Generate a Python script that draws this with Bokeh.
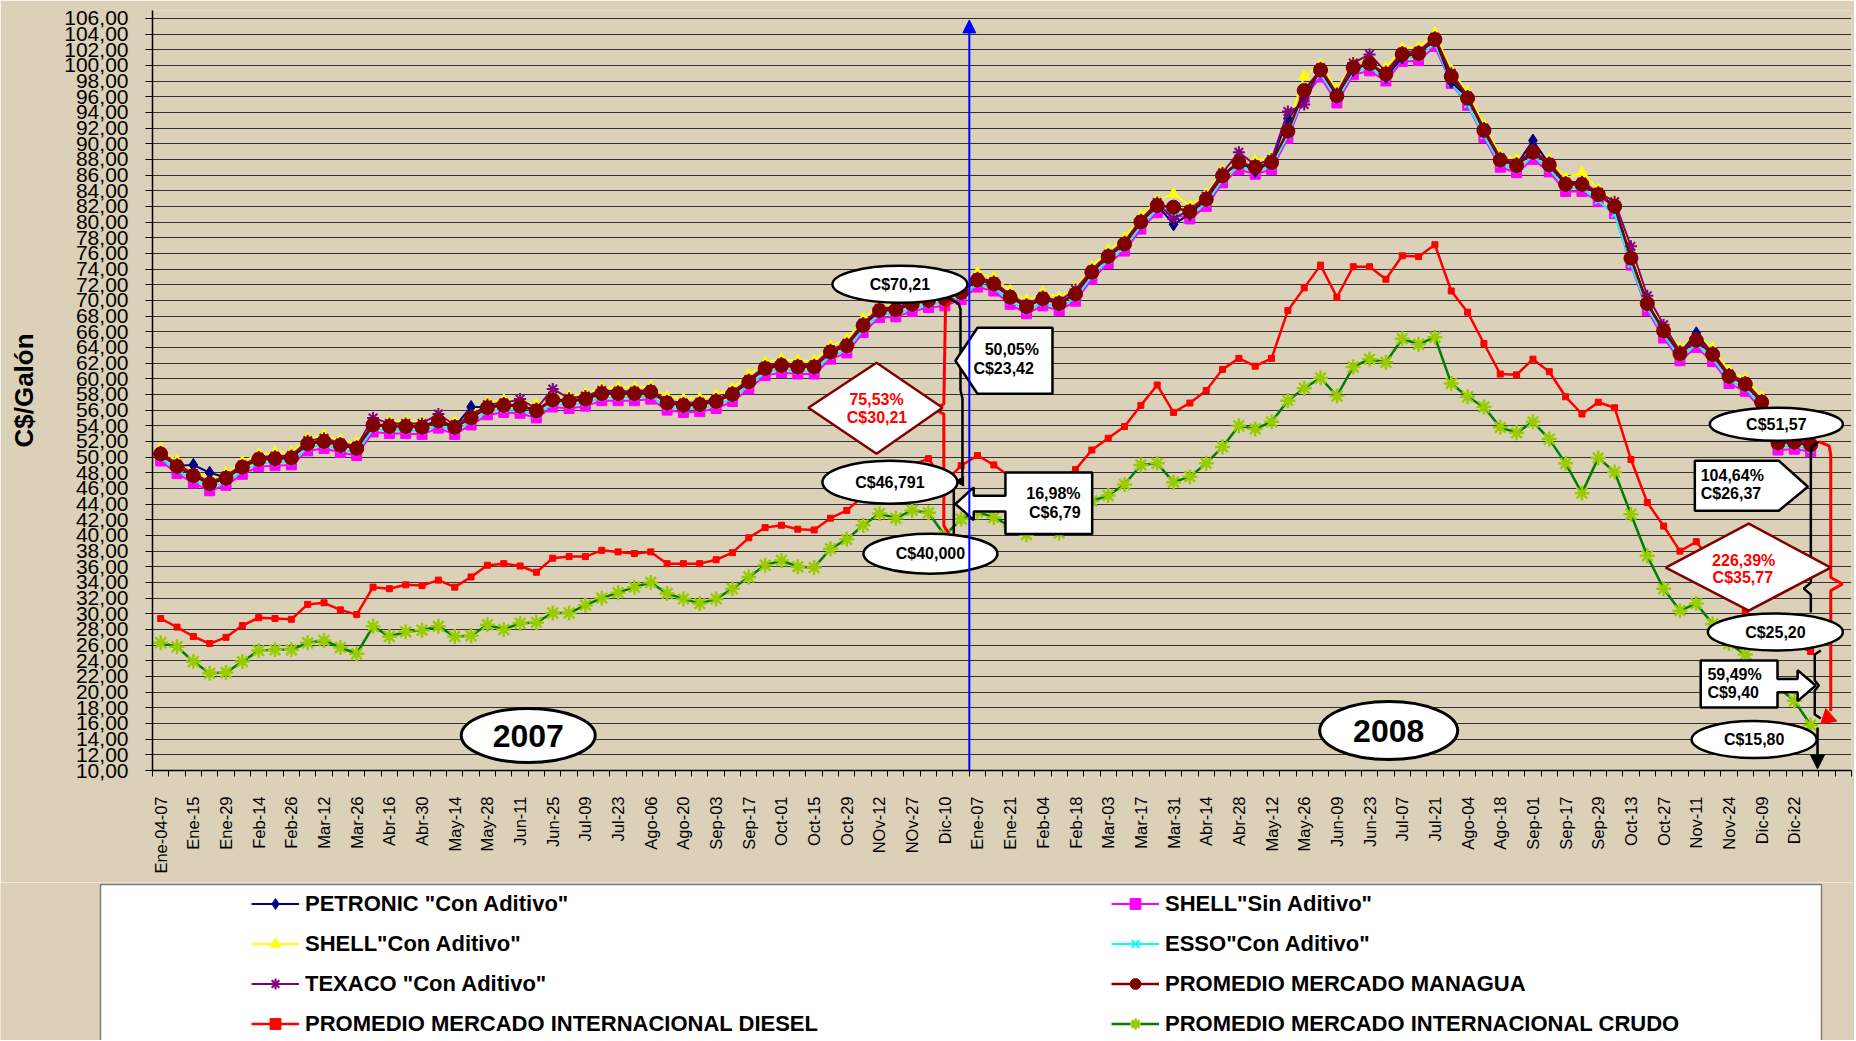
from math import pi
from bokeh.plotting import figure
from bokeh.layouts import column
from bokeh.models import (Range1d, FixedTicker, Legend, LegendItem, Arrow, NormalHead)
from bokeh.core.properties import value
from bokeh.embed import file_html
from bokeh.resources import INLINE

# ---------------- data ----------------
labels_2007 = ["Ene-04-07", "Ene-15", "Ene-29", "Feb-14", "Feb-26", "Mar-12", "Mar-26",
               "Abr-16", "Abr-30", "May-14", "May-28", "Jun-11", "Jun-25", "Jul-09",
               "Jul-23", "Ago-06", "Ago-20", "Sep-03", "Sep-17", "Oct-01", "Oct-15",
               "Oct-29", "NOv-12", "NOv-27", "Dic-10"]
labels_2008 = ["Ene-07", "Ene-21", "Feb-04", "Feb-18", "Mar-03", "Mar-17", "Mar-31",
               "Abr-14", "Abr-28", "May-12", "May-26", "Jun-09", "Jun-23", "Jul-07",
               "Jul-21", "Ago-04", "Ago-18", "Sep-01", "Sep-17", "Sep-29", "Oct-13",
               "Oct-27", "Nov-11", "Nov-24", "Dic-09", "Dic-22"]
week_labels = labels_2007 + labels_2008

petronic = [50.6, 48.9, 49.0, 48.0, 47.4, 48.8, 49.8, 49.9, 50.0, 51.8,
            52.1, 51.6, 51.2, 54.2, 54.0, 54.0, 53.9, 54.7, 53.9, 56.4,
            56.4, 56.7, 56.6, 56.0, 57.4, 57.2, 57.5, 58.2, 58.2, 58.2,
            58.4, 57.0, 56.7, 56.8, 57.2, 58.1, 59.7, 61.4, 61.8, 61.6,
            61.6, 63.5, 64.3, 66.9, 68.8, 68.9, 69.6, 70.1, 70.3, 71.1,
            72.7, 72.2, 70.5, 69.3, 70.3, 69.7, 70.9, 73.7, 75.7, 77.3,
            80.1, 82.2, 79.7, 81.0, 83.0, 86.0, 87.7, 86.5, 87.7, 93.2,
            95.8, 99.5, 96.2, 99.4, 100.3, 98.5, 101.0, 101.6, 103.4, 97.9,
            95.9, 91.8, 88.0, 87.3, 90.4, 87.4, 84.9, 84.9, 83.6, 82.1,
            75.5, 69.7, 66.2, 63.3, 65.8, 63.2, 60.4, 59.4, 57.1, 51.9,
            52.0, 51.3]
shell_sin = [49.5, 47.9, 46.7, 45.7, 46.4, 47.8, 48.8, 48.9, 49.0, 50.8,
             51.1, 50.6, 50.2, 53.2, 53.0, 53.0, 52.9, 53.7, 52.9, 54.1,
             55.4, 55.7, 55.6, 55.0, 56.4, 56.2, 56.5, 57.2, 57.2, 57.2,
             57.4, 56.0, 55.7, 55.8, 56.2, 57.1, 58.7, 60.4, 60.8, 60.6,
             60.6, 62.5, 63.3, 65.9, 67.8, 67.9, 68.6, 69.1, 69.3, 70.1,
             71.7, 71.2, 69.5, 68.3, 69.3, 68.7, 69.9, 72.7, 74.7, 76.3,
             79.1, 81.2, 81.0, 80.4, 82.0, 85.0, 86.7, 86.1, 86.7, 90.7,
             95.9, 98.5, 95.2, 98.8, 99.3, 98.0, 100.5, 100.6, 102.4, 97.7,
             94.9, 90.8, 87.0, 86.3, 88.0, 86.4, 83.9, 83.9, 82.6, 81.1,
             74.5, 68.7, 65.2, 62.3, 64.0, 62.2, 59.4, 58.4, 56.1, 50.9,
             51.0, 50.7]
shell_con = [51.1, 49.5, 48.3, 47.3, 48.0, 49.4, 50.4, 50.6, 50.6, 52.4,
             52.8, 52.2, 51.8, 54.8, 54.6, 54.6, 54.5, 55.3, 54.5, 55.7,
             57.0, 57.3, 57.2, 56.7, 58.0, 57.8, 58.1, 58.8, 58.9, 58.9,
             59.0, 57.7, 57.4, 57.5, 57.9, 58.8, 60.5, 62.1, 62.5, 62.3,
             62.3, 64.2, 65.0, 67.6, 69.5, 69.6, 70.3, 70.7, 71.0, 71.8,
             73.5, 72.9, 71.2, 70.0, 71.0, 70.4, 71.6, 74.3, 76.4, 78.0,
             80.8, 82.8, 83.6, 82.1, 83.6, 86.6, 88.3, 87.8, 88.3, 92.3,
             98.6, 100.1, 96.9, 100.4, 100.9, 99.7, 102.2, 102.3, 104.1, 99.4,
             96.6, 92.4, 88.6, 88.0, 89.6, 88.0, 85.6, 86.3, 84.2, 82.7,
             76.1, 70.3, 66.8, 63.9, 65.7, 63.9, 61.0, 60.0, 57.7, 52.6,
             52.7, 52.3]
esso = [49.9, 48.3, 47.1, 46.1, 46.8, 48.2, 49.2, 49.3, 49.4, 51.2,
        51.5, 51.0, 50.6, 53.6, 53.4, 53.4, 53.3, 54.1, 53.3, 54.5,
        55.8, 56.1, 56.0, 55.4, 56.8, 56.6, 56.9, 57.6, 57.6, 57.6,
        57.8, 56.4, 56.1, 56.2, 56.6, 57.5, 59.1, 60.8, 61.2, 61.0,
        61.0, 62.9, 63.7, 66.3, 68.2, 68.3, 69.0, 69.5, 69.7, 70.5,
        72.1, 71.6, 69.9, 68.7, 69.7, 69.1, 70.3, 73.1, 75.1, 76.7,
        79.5, 81.6, 81.1, 80.8, 82.4, 85.4, 87.1, 86.5, 87.1, 91.1,
        96.3, 98.9, 95.6, 99.2, 99.7, 98.4, 100.9, 101.0, 102.8, 97.8,
        95.0, 91.0, 87.4, 86.7, 88.4, 86.8, 84.3, 84.3, 82.7, 81.0,
        74.6, 69.0, 65.6, 62.7, 64.4, 62.6, 59.8, 58.8, 56.5, 51.3,
        51.4, 51.0]
texaco = [50.6, 49.1, 47.9, 46.8, 47.6, 49.0, 50.0, 50.1, 50.2, 52.1,
          52.4, 51.8, 51.4, 55.0, 54.3, 54.3, 54.3, 55.5, 54.1, 55.3,
          56.7, 56.9, 57.4, 56.2, 58.7, 57.5, 57.8, 58.5, 58.4, 58.4,
          58.6, 57.2, 56.9, 57.0, 57.4, 58.3, 59.9, 61.6, 62.0, 61.8,
          61.8, 63.7, 64.5, 67.1, 69.0, 69.1, 69.8, 70.3, 70.5, 71.3,
          72.9, 72.4, 70.7, 69.5, 70.5, 69.9, 71.4, 73.9, 75.9, 77.5,
          80.3, 82.5, 80.4, 81.6, 83.3, 86.3, 88.9, 87.3, 88.0, 94.1,
          95.0, 99.7, 96.4, 100.3, 101.4, 99.2, 101.7, 101.8, 103.6, 99.0,
          96.1, 92.0, 88.2, 87.5, 89.2, 87.6, 85.1, 85.1, 83.8, 82.6,
          76.9, 70.6, 66.9, 63.5, 65.2, 63.4, 60.6, 59.6, 57.3, 52.1,
          52.2, 51.9]
managua = [50.4, 48.8, 47.6, 46.6, 47.3, 48.7, 49.7, 49.8, 49.9, 51.7,
           52.0, 51.5, 51.1, 54.1, 53.9, 53.9, 53.8, 54.6, 53.8, 55.0,
           56.3, 56.6, 56.5, 55.9, 57.3, 57.1, 57.4, 58.1, 58.1, 58.1,
           58.3, 56.9, 56.6, 56.7, 57.1, 58.0, 59.6, 61.3, 61.7, 61.5,
           61.5, 63.4, 64.2, 66.8, 68.7, 68.8, 69.5, 70.0, 70.21, 71.0,
           72.6, 72.1, 70.4, 69.2, 70.2, 69.6, 70.8, 73.6, 75.6, 77.2,
           80.0, 82.1, 81.9, 81.3, 82.9, 85.9, 87.6, 87.0, 87.6, 91.6,
           96.8, 99.4, 96.1, 99.7, 100.2, 98.9, 101.4, 101.5, 103.3, 98.6,
           95.8, 91.7, 87.9, 87.2, 88.9, 87.3, 84.8, 84.8, 83.5, 82.0,
           75.4, 69.6, 66.1, 63.2, 64.9, 63.1, 60.3, 59.3, 57.0, 51.8,
           51.9, 51.57]
diesel = [29.4, 28.3, 27.1, 26.2, 27.0, 28.5, 29.5, 29.4, 29.3, 31.2,
          31.4, 30.5, 29.9, 33.4, 33.2, 33.7, 33.6, 34.3, 33.4, 34.7,
          36.2, 36.4, 36.1, 35.3, 37.1, 37.3, 37.3, 38.1, 37.9, 37.7,
          37.9, 36.4, 36.4, 36.4, 36.9, 37.8, 39.7, 41.0, 41.3, 40.8,
          40.7, 42.2, 43.2, 45.0, 46.5, 47.8, 49.0, 49.8, 46.79, 48.9,
          50.2, 49.0, 47.5, 46.5, 46.0, 46.8, 48.4, 50.9, 52.4, 53.9,
          56.6, 59.2, 55.7, 56.9, 58.5, 61.2, 62.6, 61.6, 62.6, 68.7,
          71.6, 74.5, 70.4, 74.3, 74.3, 72.7, 75.7, 75.6, 77.1, 71.2,
          68.5, 64.5, 60.6, 60.5, 62.5, 60.9, 57.7, 55.5, 57.0, 56.3,
          49.7, 44.2, 41.2, 38.0, 39.2, 36.5, 33.5, 30.3, 28.5, 27.0,
          26.0, 25.2]
crudo = [26.3, 25.8, 23.9, 22.4, 22.5, 23.9, 25.3, 25.4, 25.4, 26.3,
         26.6, 25.7, 24.9, 28.4, 27.1, 27.7, 27.9, 28.4, 27.1, 27.2,
         28.6, 28.0, 28.8, 28.9, 30.1, 30.1, 31.1, 32.0, 32.7, 33.4,
         34.0, 32.6, 31.9, 31.3, 31.9, 33.2, 34.7, 36.2, 36.8, 36.0,
         35.9, 38.3, 39.5, 41.3, 42.8, 42.2, 43.2, 42.9, 40.0, 42.1,
         43.0, 42.3, 41.2, 40.1, 41.0, 40.3, 42.4, 44.4, 45.1, 46.5,
         49.0, 49.2, 46.8, 47.5, 49.2, 51.3, 54.0, 53.6, 54.5, 57.2,
         58.8, 60.1, 57.8, 61.5, 62.5, 62.1, 65.1, 64.4, 65.3, 59.4,
         57.7, 56.4, 53.8, 53.1, 54.5, 52.3, 49.2, 45.4, 49.9, 48.1,
         42.7, 37.4, 33.2, 30.4, 31.3, 28.7, 26.2, 24.8, 22.8, 20.6,
         18.9, 15.8]

y_ticks = list(range(10, 107, 2))
weeks = list(range(len(managua)))

# ---------------- styles ----------------
FONT = "Liberation Sans"
BG = "#DBD0B8"
STYLES = {
    "sin": dict(color="#FF00FF", marker="square", size=10, fill="#FF00FF", mline="#FF00FF", lw=2.0, mlw=1.0),
    "esso": dict(color="#00FFFF", marker="x", size=9, fill=None, mline="#00FFFF", lw=2.0, mlw=2.0),
    "con": dict(color="#FFFF00", marker="triangle", size=11, fill="#FFFF00", mline="#FFFF00", lw=2.0, mlw=1.0),
    "pet": dict(color="#000080", marker="diamond", size=13, fill="#000080", mline="#000080", lw=2.0, mlw=1.0),
    "tex": dict(color="#800080", marker="asterisk", size=12, fill=None, mline="#800080", lw=2.0, mlw=2.0),
    "man": dict(color="#800000", marker="circle", size=14, fill="#800000", mline="#800000", lw=2.5, mlw=1.0),
    "die": dict(color="#FF0000", marker="square", size=6, fill="#FF0000", mline="#FF0000", lw=2.5, mlw=1.0),
    "cru": dict(color="#008000", marker="asterisk", size=15, fill=None, mline="#99CC00", lw=2.5, mlw=2.5),
}

W = 1854

# ---------------- main figure ----------------
p = figure(width=W, height=882, x_range=Range1d(-0.5, 103.5), y_range=Range1d(10, 107),
           output_backend="svg", toolbar_location=None,
           min_border_left=152, min_border_right=3, min_border_top=10, min_border_bottom=112,
           background_fill_color=BG, border_fill_color=BG, outline_line_color=None)
p.frame_align = False

p.xaxis.ticker = FixedTicker(ticks=[2 * k for k in range(len(week_labels))],
                             minor_ticks=[i - 0.5 for i in range(105)])
p.xaxis.major_label_overrides = {2 * k: lab for k, lab in enumerate(week_labels)}
p.xaxis.major_label_orientation = pi / 2
p.xaxis.major_tick_line_color = None
p.xaxis.major_tick_out = 0
p.xaxis.major_tick_in = 0
p.xaxis.minor_tick_line_color = "black"
p.xaxis.minor_tick_out = 6
p.xaxis.minor_tick_in = 0
p.xaxis.major_label_standoff = 20
p.xaxis.axis_line_color = "black"
p.xaxis.axis_line_width = 1.5
p.xaxis.major_label_text_font = FONT
p.xaxis.major_label_text_font_size = "16.5px"
p.xaxis.major_label_text_color = "black"

p.yaxis.ticker = FixedTicker(ticks=y_ticks)
p.yaxis.major_label_overrides = {v: f"{v},00" for v in y_ticks}
p.yaxis.major_tick_out = 7
p.yaxis.major_tick_in = 0
p.yaxis.minor_tick_line_color = None
p.yaxis.major_label_standoff = 17
p.yaxis.axis_line_color = "black"
p.yaxis.axis_line_width = 1.5
p.yaxis.major_label_text_font = FONT
p.yaxis.major_label_text_font_size = "21px"
p.yaxis.major_label_text_color = "black"
p.yaxis.axis_label = "C$/Galón"
p.yaxis.axis_label_text_font = FONT
p.yaxis.axis_label_text_font_size = "26px"
p.yaxis.axis_label_text_font_style = "bold"
p.yaxis.axis_label_text_color = "black"
p.yaxis.axis_label_standoff = 22

p.xgrid.grid_line_color = None
p.ygrid.grid_line_color = "#333333"
p.ygrid.grid_line_width = 1


def series(fig, xv, yv, st):
    rl = fig.line(xv, yv, line_color=st["color"], line_width=st["lw"])
    rs = fig.scatter(xv, yv, marker=st["marker"], size=st["size"], fill_color=st["fill"],
                     line_color=st["mline"], line_width=st["mlw"])
    return [rl, rs]


for key, yv in [("sin", shell_sin), ("esso", esso), ("con", shell_con), ("pet", petronic),
                ("tex", texaco), ("man", managua), ("die", diesel), ("cru", crudo)]:
    series(p, weeks, yv, STYLES[key])

# ---------------- annotations ----------------
p.add_layout(Arrow(end=NormalHead(size=13, fill_color="#0000FF", line_color="#0000FF"),
                   x_start=49.5, y_start=10, x_end=49.5, y_end=105.8,
                   line_color="#0000FF", line_width=2))

br_red = dict(line_color="#FF0000", line_width=3)
br_blk = dict(line_color="black", line_width=2.5)
p.line([48.55, 48.04, 47.94, 47.32, 47.94, 47.94, 48.24],
       [70.29, 69.1, 56.77, 56.13, 55.5, 41.25, 40.27], **br_red)
p.line([48.24, 48.84, 48.96, 48.96, 49.08, 49.08],
       [70.29, 69.6, 68.9, 58.5, 57.5, 47.3], **br_blk)
p.patch([48.65, 49.15, 49.15], [46.9, 47.5, 46.3], fill_color="black", line_color="black")
p.line([48.55, 48.55], [46.99, 40.19], **br_blk)
p.line([101.5, 101.07, 101.01, 101.01, 100.58, 101.01, 101.01],
       [51.96, 51.33, 50.18, 33.98, 33.21, 32.45, 30.15], **br_blk)
p.line([101.62, 101.25, 101.25, 101.5, 101.25, 101.25, 101.62],
       [25.31, 24.8, 21.48, 20.84, 20.2, 17.14, 16.63], **br_blk)
p.line([101.52, 102.13, 102.23, 102.23, 102.95, 102.23, 102.23],
       [51.96, 51.43, 50.31, 34.64, 33.8, 32.96, 17.6], **br_red)
p.patch([101.93, 102.6, 101.62], [17.9, 16.3, 15.96], fill_color="#FF0000", line_color="#FF0000")
p.add_layout(Arrow(end=NormalHead(size=14, fill_color="black", line_color="black"),
                   x_start=101.42, y_start=15.5, x_end=101.42, y_end=10.2,
                   line_color="black", line_width=2.5))

p.patches([[39.65, 43.82, 47.86, 43.82], [92.13, 97.21, 102.23, 97.21]],
          [[56.3, 62.04, 56.3, 50.43], [35.89, 41.5, 35.89, 30.41]],
          fill_color="white", line_color="#800000", line_width=2.5)

p.patches([[48.65, 50.0, 54.59, 54.59, 50.0],
           [51.71, 57.02, 57.02, 51.71, 51.71, 49.77, 49.77, 48.65, 49.77, 49.77, 51.71],
           [93.91, 99.05, 100.83, 99.05, 93.91],
           [94.27, 98.97, 98.97, 100.2, 100.2, 101.31, 100.2, 100.2, 98.97, 98.97, 94.27]],
          [[62.3, 66.5, 66.5, 58.09, 58.09],
           [48.05, 48.05, 40.19, 40.19, 43.07, 43.07, 41.98, 44.02, 46.14, 45.08, 45.08],
           [49.54, 49.54, 46.22, 43.16, 43.16],
           [24.03, 24.03, 21.67, 21.67, 22.79, 20.84, 18.86, 19.99, 19.99, 18.04, 18.04]],
          fill_color="white", line_color="black", line_width=2.5)

ex = [45.25, 44.64, 47.12, 98.9, 98.84, 97.54]
ey = [72.05, 46.8, 37.68, 54.2, 27.67, 13.95]
ew = [135, 135, 134, 133, 135, 125]
eh = [37, 43, 40, 33, 37, 37]
et = ["C$70,21", "C$46,791", "C$40,000", "C$51,57", "C$25,20", "C$15,80"]
p.ellipse(x=ex, y=ey, width=ew, height=eh, width_units="screen", height_units="screen",
          fill_color="white", line_color="black", line_width=2.5)
p.ellipse(x=[22.5, 75.17], y=[14.46, 15.1], width=[134, 138], height=[54, 58],
          width_units="screen", height_units="screen",
          fill_color="white", line_color="black", line_width=3)

txt = dict(text_font=value(FONT), text_font_style="bold", text_font_size="16px",
           text_baseline="middle")
p.text(x=ex, y=ey, text=et, text_align="center", text_color="black", **txt)
p.text(x=[43.82, 43.85, 96.9, 96.85], y=[57.32, 55.03, 36.84, 34.58],
       text=["75,53%", "C$30,21", "226,39%", "C$35,77"],
       text_align="center", text_color="#FF0000", **txt)
p.text(x=[52.1, 51.6], y=[63.7, 61.28], text=["50,05%", "C$23,42"],
       text_align="center", text_color="black", **txt)
p.text(x=[56.31, 56.31], y=[45.33, 42.91], text=["16,98%", "C$6,79"],
       text_align="right", text_color="black", **txt)
p.text(x=[94.27, 94.27, 94.68, 94.68], y=[47.63, 45.33, 22.24, 19.99],
       text=["104,64%", "C$26,37", "59,49%", "C$9,40"],
       text_align="left", text_color="black", **txt)
p.text(x=[22.5, 75.17], y=[14.46, 15.1], text=["2007", "2008"],
       text_align="center", text_color="black", text_font=value(FONT),
       text_font_style="bold", text_font_size="32px", text_baseline="middle")

# ---------------- legend panel (second figure, pixel coordinates) ----------------
LH = 158
pl = figure(width=W, height=LH, x_range=Range1d(0, W), y_range=Range1d(0, LH),
            output_backend="svg", toolbar_location=None, min_border=0,
            x_axis_location=None, y_axis_location=None,
            background_fill_color=BG, border_fill_color=BG, outline_line_color=None)
pl.frame_align = False
pl.grid.visible = False
pl.quad(left=[100], right=[1821], top=[LH - 2], bottom=[-10], fill_color="white",
        line_color="#7F7F7F", line_width=1.5)

# legend glyph renderers (a single point kept outside the visible range)
leg_r = {k: series(pl, [-500], [-500], STYLES[k]) for k in STYLES}


def make_legend(items, loc):
    lg = Legend(items=items, location=loc, orientation="vertical",
                glyph_width=48, glyph_height=27, label_height=27, label_standoff=6,
                spacing=13, padding=0, margin=0, border_line_color=None,
                background_fill_alpha=0.0, label_text_font=FONT,
                label_text_font_size="22px", label_text_font_style="bold",
                label_text_color="black")
    pl.add_layout(lg)


make_legend([LegendItem(label='PETRONIC "Con Aditivo"', renderers=leg_r["pet"]),
             LegendItem(label='SHELL"Con Aditivo"', renderers=leg_r["con"]),
             LegendItem(label='TEXACO "Con Aditivo"', renderers=leg_r["tex"]),
             LegendItem(label="PROMEDIO MERCADO INTERNACIONAL DIESEL", renderers=leg_r["die"])],
            (251, 3))
make_legend([LegendItem(label='SHELL"Sin Aditivo"', renderers=leg_r["sin"]),
             LegendItem(label='ESSO"Con Aditivo"', renderers=leg_r["esso"]),
             LegendItem(label="PROMEDIO MERCADO MANAGUA", renderers=leg_r["man"]),
             LegendItem(label="PROMEDIO MERCADO INTERNACIONAL CRUDO", renderers=leg_r["cru"])],
            (1111, 3))

layout = column(p, pl, spacing=0)
open("out.html", "w").write(file_html(layout, INLINE))
